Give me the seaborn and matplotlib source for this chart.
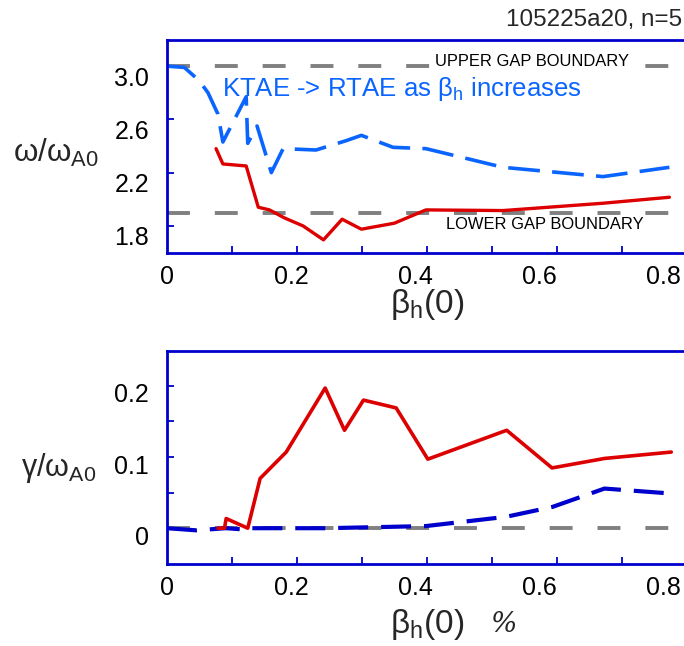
import numpy as np
import pandas as pd
import matplotlib
matplotlib.use("Agg")
import matplotlib.pyplot as plt
import matplotlib.transforms as mtransforms
import seaborn as sns

# ---------------- data ----------------
top_red_x = [0.079, 0.090, 0.1275, 0.147, 0.165, 0.189, 0.219, 0.252, 0.282, 0.313, 0.366, 0.417, 0.541, 0.702, 0.809]
top_red_y = [2.38, 2.265, 2.25, 1.94, 1.92, 1.86, 1.80, 1.695, 1.85, 1.775, 1.82, 1.92, 1.915, 1.97, 2.015]

top_blue_x = [0.0, 0.028, 0.052, 0.066, 0.082, 0.090, 0.1275, 0.130, 0.145, 0.168, 0.187, 0.240, 0.2885, 0.313, 0.364, 0.417, 0.541, 0.702, 0.809]
top_blue_y = [3.0, 2.99, 2.89, 2.80, 2.64, 2.43, 2.77, 2.42, 2.55, 2.20, 2.38, 2.37, 2.44, 2.48, 2.39, 2.38, 2.24, 2.17, 2.24]

bot_red_x = [0.082, 0.0926, 0.0953, 0.130, 0.150, 0.192, 0.2547, 0.2858, 0.3164, 0.369, 0.420, 0.547, 0.620, 0.7045, 0.812]
bot_red_y = [0.0, 0.0, 0.0136, 0.0, 0.070, 0.107, 0.197, 0.1376, 0.180, 0.169, 0.097, 0.1376, 0.0847, 0.098, 0.107]

bot_blue_x = [0.0, 0.047, 0.095, 0.1275, 0.133, 0.256, 0.417, 0.546, 0.621, 0.7045, 0.812]
bot_blue_y = [0.0, -0.003, 0.0, -0.002, 0.0, 0.0, 0.003, 0.016, 0.030, 0.0557, 0.0487]

upper_gap = 3.0
lower_gap = 1.9

top_yticks = [1.8, 2.2, 2.6, 3.0]
top_yticklabels = ["1.8", "2.2", "2.6", "3.0"]
bot_yticks = [0.0, 0.1, 0.2]
bot_yticklabels = ["0", "0.1", "0.2"]
xticks = [0.0, 0.2, 0.4, 0.6, 0.8]
xticklabels = ["0", "0.2", "0.4", "0.6", "0.8"]

# ---------------- style ----------------
sns.set_theme(style="white")
plt.rcParams["font.family"] = ["Liberation Sans", "DejaVu Sans"]
plt.rcParams["mathtext.fontset"] = "custom"
plt.rcParams["mathtext.rm"] = "Liberation Sans"
plt.rcParams["mathtext.it"] = "Liberation Sans:italic"

SPINE = "#0000cc"
RED = "#dd0000"
LBLUE = "#0a64ff"
DBLUE = "#0000cc"
GRAY = "#808080"
GRAY_DASH = (5.9, 6.4)

W, H = 684, 646
fig = plt.figure(figsize=(W / 100, H / 100), dpi=100)

def px_axes(l, t, r, b):
    return fig.add_axes([l / W, 1 - b / H, (r - l) / W, (b - t) / H])

ax1 = px_axes(167, 39.5, 684, 252.5)
ax2 = px_axes(167, 351, 684, 563.5)

XMAX = (684 - 167) / 621.0

def style_axes(ax, yticks, ylabels, ydrop, ylim, yminor=None):
    ax.set_xlim(0, XMAX)
    ax.set_ylim(*ylim)
    for s in ["left", "top", "bottom"]:
        ax.spines[s].set_visible(True)
        ax.spines[s].set_color(SPINE)
        ax.spines[s].set_linewidth(2.0)
    ax.spines["right"].set_visible(False)
    ax.set_xticks(xticks)
    ax.set_xticklabels(xticklabels)
    ax.set_xticks([0.1047 * k for k in range(1, 8)], minor=True)
    ax.tick_params(axis="x", which="major", length=0, pad=9, labelsize=18, colors="black")
    ax.tick_params(axis="x", which="minor", length=5, width=1.3, direction="in", color=SPINE, bottom=True)
    ax.set_yticks(yticks)
    ax.set_yticklabels(ylabels)
    if yminor is not None:
        ax.set_yticks(yminor, minor=True)
    ax.tick_params(axis="y", which="both", length=5, width=1.3, direction="in", color=SPINE,
                   pad=13, labelsize=18, left=True, labelcolor="black")
    off = mtransforms.ScaledTranslation(0, -ydrop / 100.0, fig.dpi_scale_trans)
    for lab in ax.get_yticklabels():
        lab.set_transform(lab.get_transform() + off)
    ax.set_xlabel("")
    ax.set_ylabel("")
    ax.grid(False)

# ---------------- top panel ----------------
ax1.axhline(upper_gap, color=GRAY, lw=2.8, dashes=GRAY_DASH)
ax1.axhline(lower_gap, color=GRAY, lw=2.8, dashes=GRAY_DASH)
sns.lineplot(x=top_blue_x, y=top_blue_y, sort=False, estimator=None, ax=ax1,
             color=LBLUE, lw=2.6, linestyle=(0, (8.8, 3.4)))
sns.lineplot(x=top_red_x, y=top_red_y, sort=False, estimator=None, ax=ax1, color=RED, lw=2.4)
style_axes(ax1, top_yticks, top_yticklabels, 10, (1.60, 3.20))

ax1.text(0.432, 3.035, "UPPER GAP BOUNDARY", fontsize=11.9, color="black", ha="left", va="center",
         bbox=dict(facecolor="white", edgecolor="none", pad=0.5))
ax1.text(0.449, 1.810, "LOWER GAP BOUNDARY", fontsize=11.9, color="black", ha="left", va="center")
ax1.text(0.088, 2.83, r"KTAE -> RTAE as $\mathrm{β}_{\mathrm{h}}$ increases", fontsize=18.5,
         color=LBLUE, ha="left", va="center")

# ---------------- bottom panel ----------------
ax2.axhline(0.0, color=GRAY, lw=2.8, dashes=GRAY_DASH)
sns.lineplot(x=bot_blue_x, y=bot_blue_y, sort=False, estimator=None, ax=ax2,
             color=DBLUE, lw=3.0, linestyle=(0, (7.2, 3.1)))
sns.lineplot(x=bot_red_x, y=bot_red_y, sort=False, estimator=None, ax=ax2, color=RED, lw=2.6)
style_axes(ax2, bot_yticks, bot_yticklabels, 7, (-0.0496, 0.249), yminor=[0.05, 0.15])

# ---------------- labels ----------------
def ftext(x, y, s, **kw):
    fig.text(x / W, 1 - y / H, s, **kw)

ftext(682, 20, "105225a20, n=5", fontsize=17.5, ha="right", va="center")
ftext(56, 153, r"$\mathrm{ω/ω}_{\mathrm{A0}}$", fontsize=22.5, ha="center", va="center")
ftext(59, 468, r"$\mathrm{γ/ω}_{\mathrm{A0}}$", fontsize=22, ha="center", va="center")
ftext(427, 305, r"$\mathrm{β}_{\mathrm{h}}\mathrm{(0)}$", fontsize=24, ha="center", va="center")
ftext(427, 625, r"$\mathrm{β}_{\mathrm{h}}\mathrm{(0)}$", fontsize=24, ha="center", va="center")
ftext(504, 625, "%", fontsize=20, ha="center", va="center", family="DejaVu Serif", style="italic")

fig.savefig("out.png", dpi=100)
